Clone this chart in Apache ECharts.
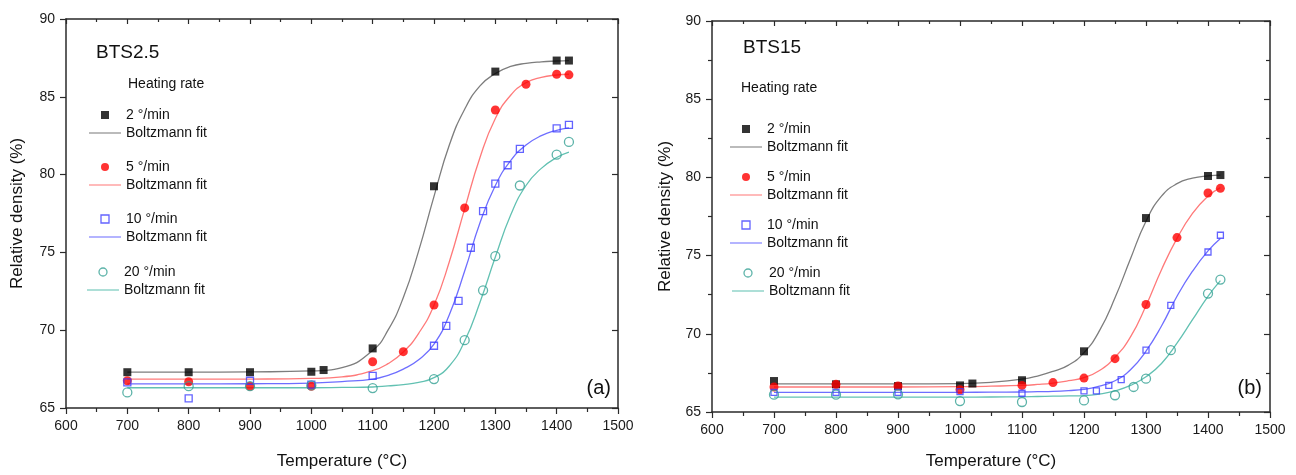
<!DOCTYPE html>
<html>
<head>
<meta charset="utf-8">
<script src="https://cdn.jsdelivr.net/npm/echarts@6/dist/echarts.min.js"></script>
<style>
  html, body { margin: 0; padding: 0; background: #fff; }
  #main { width: 1296px; height: 475px; }
</style>
</head>
<body>
<div id="main"></div>
<script>
// axis range (both panels)
var tMin = 600, tMax = 1500, tStep = 100;
var dMin = 65, dMax = 90, dStep = 5;

// (a) BTS2.5 measured points
var a2T = [700, 800, 900, 1000, 1020, 1100, 1200, 1300, 1400, 1420];
var a2D = [67.3, 67.3, 67.3, 67.33, 67.44, 68.83, 79.25, 86.62, 87.33, 87.33];
var a5T = [700, 800, 900, 1000, 1100, 1150, 1200, 1250, 1300, 1350, 1400, 1420];
var a5D = [66.75, 66.69, 66.4, 66.4, 67.97, 68.62, 71.62, 77.86, 84.15, 85.81, 86.45, 86.41];
var a10T = [700, 800, 900, 1000, 1100, 1200, 1220, 1240, 1260, 1280, 1300, 1320, 1340, 1400, 1420];
var a10D = [66.65, 65.62, 66.75, 66.5, 67.07, 69.0, 70.28, 71.88, 75.3, 77.65, 79.42, 80.6, 81.65, 82.97, 83.19];
var a20T = [700, 800, 900, 1000, 1100, 1200, 1250, 1280, 1300, 1340, 1400, 1420];
var a20D = [66.0, 66.4, 66.4, 66.45, 66.28, 66.86, 69.36, 72.56, 74.76, 79.3, 81.28, 82.1];

// (b) BTS15 measured points
var b2T = [700, 800, 900, 1000, 1020, 1100, 1200, 1300, 1400, 1420];
var b2D = [66.98, 66.77, 66.66, 66.7, 66.82, 67.03, 68.88, 77.4, 80.09, 80.15];
var b5T = [700, 800, 900, 1000, 1100, 1150, 1200, 1250, 1300, 1350, 1400, 1420];
var b5D = [66.6, 66.77, 66.66, 66.42, 66.7, 66.88, 67.17, 68.41, 71.87, 76.15, 79.0, 79.3];
var b10T = [700, 800, 900, 1000, 1100, 1200, 1220, 1240, 1260, 1300, 1340, 1400, 1420];
var b10D = [66.25, 66.25, 66.25, 66.3, 66.2, 66.35, 66.35, 66.7, 67.07, 68.95, 71.82, 75.23, 76.3];
var b20T = [700, 800, 900, 1000, 1100, 1200, 1250, 1280, 1300, 1340, 1400, 1420];
var b20D = [66.11, 66.11, 66.13, 65.7, 65.64, 65.74, 66.07, 66.6, 67.13, 68.95, 72.57, 73.47];

// Boltzmann fit curves
var fitT = [700, 800, 900, 1000, 1050, 1100, 1125, 1150, 1175, 1200, 1225, 1250, 1275, 1300, 1325, 1350, 1375, 1400, 1420];
var aFit2 = [67.3, 67.3, 67.32, 67.38, 67.6, 68.7, 70.0, 72.1, 75.1, 78.6, 81.9, 84.2, 85.7, 86.5, 86.95, 87.15, 87.25, 87.3, 87.33];
var aFit5 = [66.85, 66.85, 66.86, 66.9, 67.0, 67.4, 67.85, 68.6, 69.8, 71.6, 74.4, 77.8, 81.1, 83.6, 85.1, 85.9, 86.25, 86.4, 86.45];
var aFit10 = [66.55, 66.55, 66.56, 66.6, 66.7, 66.85, 67.1, 67.5, 68.1, 69.1, 71.0, 73.8, 76.9, 79.3, 80.9, 81.9, 82.5, 82.85, 83.0];
var aFit20 = [66.3, 66.3, 66.3, 66.3, 66.32, 66.35, 66.42, 66.5, 66.65, 66.95, 67.7, 69.3, 71.8, 74.7, 77.4, 79.3, 80.4, 81.1, 81.45];
var bFit2 = [66.8, 66.8, 66.8, 66.82, 66.9, 67.1, 67.3, 67.6, 68.0, 68.8, 70.2, 72.3, 74.8, 77.2, 78.8, 79.6, 79.95, 80.1, 80.15];
var bFit5 = [66.6, 66.6, 66.6, 66.62, 66.65, 66.7, 66.76, 66.85, 67.0, 67.2, 67.65, 68.5, 69.8, 71.8, 74.1, 76.1, 77.7, 78.8, 79.35];
var bFit10 = [66.25, 66.25, 66.25, 66.26, 66.27, 66.28, 66.3, 66.32, 66.37, 66.45, 66.65, 67.0, 67.7, 68.9, 70.5, 72.4, 74.0, 75.3, 76.1];
var bFit20 = [65.95, 65.95, 65.95, 65.95, 65.96, 65.97, 65.99, 66.01, 66.03, 66.05, 66.15, 66.35, 66.7, 67.25, 68.1, 69.4, 70.9, 72.4, 73.4];

var legendText = {
  a2: '2 °/min', a5: '5 °/min', a10: '10 °/min', a20: '20 °/min',
  b2: '2 °/min', b5: '5 °/min', b10: '10 °/min', b20: '20 °/min'
};

var FONT = '"Liberation Sans", Arial, Helvetica, sans-serif';
var AXIS_COLOR = '#2a2a2a';
var SQUARE = 'path://M0,0H10V10H0Z';

function pairs(xs, ys) {
  return xs.map(function (x, i) { return [x, ys[i]]; });
}

function xAxisFor(grid, top, gap) {
  return {
    type: 'value', gridIndex: grid, position: top ? 'top' : 'bottom',
    min: tMin, max: tMax, interval: tStep,
    name: top ? '' : 'Temperature (°C)', nameLocation: 'middle', nameGap: gap,
    nameTextStyle: { fontFamily: FONT, fontSize: 17, color: '#111' },
    axisLine: { onZero: false, lineStyle: { color: AXIS_COLOR, width: 1.5 } },
    axisTick: { inside: top, length: top ? 5 : 6, lineStyle: { color: AXIS_COLOR, width: 1.2 } },
    minorTick: { show: true, splitNumber: 2, length: top ? 3 : 4, lineStyle: { color: AXIS_COLOR, width: 1.2 } },
    axisLabel: {
      show: !top, fontFamily: FONT, fontSize: 14, color: '#1a1a1a', margin: 11,
      formatter: function (v) { return String(v); }
    },
    splitLine: { show: false }
  };
}

function yAxisFor(grid, right, minor, gap) {
  return {
    type: 'value', gridIndex: grid, position: right ? 'right' : 'left',
    min: dMin, max: dMax, interval: dStep,
    name: right ? '' : 'Relative density (%)', nameLocation: 'middle', nameGap: gap, nameRotate: 90,
    nameTextStyle: { fontFamily: FONT, fontSize: 17, color: '#111' },
    axisLine: { onZero: false, lineStyle: { color: AXIS_COLOR, width: 1.5 } },
    axisTick: { inside: right, length: 6, lineStyle: { color: AXIS_COLOR, width: 1.2 } },
    minorTick: { show: minor, splitNumber: 2, length: 4, lineStyle: { color: AXIS_COLOR, width: 1.2 } },
    axisLabel: { show: !right, fontFamily: FONT, fontSize: 14, color: '#1a1a1a', margin: 11 },
    splitLine: { show: false }
  };
}

function points(name, xi, yi, xs, ys, symbol, size, style) {
  return {
    name: name, type: 'scatter', xAxisIndex: xi, yAxisIndex: yi,
    symbol: symbol, symbolSize: size, itemStyle: style, z: 4,
    data: pairs(xs, ys)
  };
}

function fitLine(name, xi, yi, ys, color) {
  return {
    name: name, type: 'line', xAxisIndex: xi, yAxisIndex: yi,
    smooth: 0.5, symbol: 'none', color: color,
    lineStyle: { color: color, width: 1.3 }, z: 2,
    data: pairs(fitT, ys)
  };
}

var black = { color: '#000' };
var red = { color: '#ff0000' };
var blue = { color: 'rgba(0,0,0,0)', borderColor: '#3c3cff', borderWidth: 1.3 };
var teal = { color: 'rgba(0,0,0,0)', borderColor: '#34a093', borderWidth: 1.3 };
var fitColors = ['#7d7d7d', '#ff7a7a', '#6e6eff', '#62c1b2'];

function legendFor(key, left, top, style, icon, color) {
  var first = { name: key, itemStyle: style };
  if (icon) first.icon = icon;
  return {
    orient: 'vertical', left: left, top: top, padding: 0,
    itemWidth: 32, itemHeight: 8, itemGap: 4,
    textStyle: { fontFamily: FONT, fontSize: 14, color: '#111' },
    formatter: function (n) { return legendText[n] || 'Boltzmann fit'; },
    data: [
      first,
      { name: key + 'f', icon: 'path://M0,0H40V1.3H0Z', itemStyle: { color: color, borderWidth: 0 } }
    ]
  };
}

function title(text, pos, size) {
  var t = { text: text, padding: 0, textStyle: { fontFamily: FONT, fontSize: size, fontWeight: 'normal', color: '#111' } };
  return Object.assign(t, pos);
}

var chart = echarts.init(document.getElementById('main'));

chart.setOption({
  animation: false,
  backgroundColor: '#fff',
  grid: [
    { left: 66, top: 19, width: 552, height: 390 },
    { left: 712, top: 21, width: 558, height: 391 }
  ],
  xAxis: [xAxisFor(0, false, 45), xAxisFor(0, true, 0), xAxisFor(1, false, 41), xAxisFor(1, true, 0)],
  yAxis: [yAxisFor(0, false, false, 40), yAxisFor(0, true, false, 0), yAxisFor(1, false, true, 38), yAxisFor(1, true, true, 0)],
  title: [
    title('BTS2.5', { left: 96, top: 43 }, 19),
    title('Heating rate', { left: 128, top: 77 }, 14),
    title('(a)', { right: 685, top: 378 }, 20),
    title('BTS15', { left: 743, top: 38 }, 19),
    title('Heating rate', { left: 741, top: 81 }, 14),
    title('(b)', { right: 34, top: 378 }, 20)
  ],
  legend: [
    legendFor('a2', 89, 108, black, SQUARE, fitColors[0]),
    legendFor('a5', 89, 160, red, null, fitColors[1]),
    legendFor('a10', 89, 212, { color: '#fff', borderColor: '#3c3cff', borderWidth: 1.3 }, SQUARE, fitColors[2]),
    legendFor('a20', 87, 265, teal, null, fitColors[3]),
    legendFor('b2', 730, 122, black, SQUARE, fitColors[0]),
    legendFor('b5', 730, 170, red, null, fitColors[1]),
    legendFor('b10', 730, 218, { color: '#fff', borderColor: '#3c3cff', borderWidth: 1.3 }, SQUARE, fitColors[2]),
    legendFor('b20', 732, 266, teal, null, fitColors[3])
  ],
  series: [
    fitLine('a2f', 0, 0, aFit2, fitColors[0]),
    fitLine('a5f', 0, 0, aFit5, fitColors[1]),
    fitLine('a10f', 0, 0, aFit10, fitColors[2]),
    fitLine('a20f', 0, 0, aFit20, fitColors[3]),
    points('a2', 0, 0, a2T, a2D, 'rect', 8, black),
    points('a5', 0, 0, a5T, a5D, 'circle', 9, red),
    points('a10', 0, 0, a10T, a10D, 'rect', 7, blue),
    points('a20', 0, 0, a20T, a20D, 'circle', 9, teal),

    fitLine('b2f', 2, 2, bFit2, fitColors[0]),
    fitLine('b5f', 2, 2, bFit5, fitColors[1]),
    fitLine('b10f', 2, 2, bFit10, fitColors[2]),
    fitLine('b20f', 2, 2, bFit20, fitColors[3]),
    points('b2', 2, 2, b2T, b2D, 'rect', 8, black),
    points('b5', 2, 2, b5T, b5D, 'circle', 9, red),
    points('b10', 2, 2, b10T, b10D, 'rect', 6, blue),
    points('b20', 2, 2, b20T, b20D, 'circle', 9, teal)
  ]
});
</script>
</body>
</html>
